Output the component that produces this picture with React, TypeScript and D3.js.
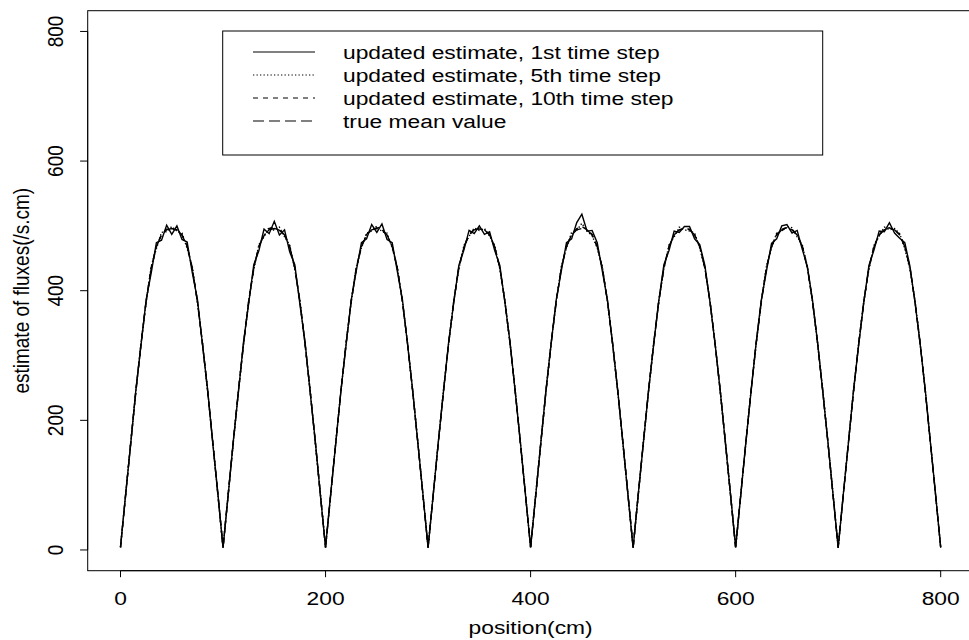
import React from 'react';
import * as d3 from 'd3';

// positions (cm) sampled every 5 cm
const positions: number[] = d3.range(0, 801, 5);

const xTicks = [0, 200, 400, 600, 800];
const yTicks = [0, 200, 400, 600, 800];

const xLabel = 'position(cm)';
const yLabel = 'estimate of fluxes(/s.cm)';

const legendLabels = [
  'updated estimate, 1st time step',
  'updated estimate, 5th time step',
  'updated estimate, 10th time step',
  'true mean value',
];

const estimate1st = [
  5, 86, 164, 247, 316, 386, 428, 474, 478, 501, 487, 500, 479, 475, 428, 387, 316, 247, 164, 87,
  3, 84, 168, 243, 321, 380, 440, 462, 495, 488, 507, 486, 494, 460, 440, 379, 321, 243, 168, 84,
  4, 87, 165, 246, 316, 385, 431, 474, 480, 502, 490, 503, 479, 474, 430, 386, 317, 246, 165, 86,
  3, 85, 167, 244, 320, 381, 439, 463, 493, 488, 500, 487, 491, 462, 439, 381, 320, 244, 167, 85,
  4, 84, 166, 247, 318, 386, 431, 474, 480, 505, 518, 492, 493, 474, 430, 385, 318, 246, 166, 84,
  3, 86, 165, 245, 316, 384, 440, 462, 492, 490, 499, 499, 480, 471, 439, 382, 317, 245, 165, 86,
  4, 85, 167, 244, 320, 385, 430, 473, 480, 500, 502, 489, 493, 464, 437, 385, 319, 244, 167, 85,
  3, 86, 165, 247, 316, 382, 439, 463, 492, 491, 505, 489, 481, 474, 438, 381, 317, 246, 165, 86,
  4,
];

const estimate5th = [
  4, 85, 167, 244, 319, 382, 438, 465, 490, 491, 499, 492, 489, 465, 437, 382, 319, 245, 167, 85,
  4, 86, 165, 246, 317, 384, 433, 471, 483, 498, 493, 498, 483, 471, 433, 385, 317, 246, 165, 86,
  4, 84, 167, 245, 319, 382, 437, 466, 489, 492, 500, 491, 489, 466, 437, 382, 319, 244, 167, 84,
  4, 86, 166, 246, 317, 384, 433, 470, 484, 497, 493, 496, 484, 470, 433, 384, 317, 246, 166, 86,
  4, 85, 165, 245, 319, 383, 438, 466, 490, 493, 504, 492, 485, 466, 437, 383, 319, 245, 165, 85,
  4, 85, 167, 244, 317, 384, 433, 471, 483, 498, 494, 492, 489, 466, 434, 384, 318, 244, 167, 85,
  4, 86, 166, 246, 318, 382, 437, 466, 489, 492, 499, 497, 483, 471, 437, 382, 318, 246, 166, 86,
  4, 85, 166, 245, 319, 384, 433, 470, 484, 498, 494, 496, 488, 465, 433, 384, 319, 245, 166, 85,
  4,
];

const estimate10th = [
  4, 85, 166, 246, 318, 384, 436, 468, 487, 495, 495, 494, 486, 469, 434, 384, 318, 245, 166, 85,
  4, 85, 167, 245, 318, 383, 435, 469, 485, 496, 497, 493, 487, 468, 436, 383, 318, 245, 167, 85,
  4, 85, 166, 245, 318, 384, 435, 468, 487, 494, 497, 495, 485, 469, 435, 384, 318, 245, 166, 85,
  4, 85, 166, 245, 318, 383, 436, 467, 486, 495, 495, 494, 487, 467, 435, 383, 318, 245, 166, 85,
  4, 85, 166, 245, 318, 384, 435, 469, 486, 496, 499, 494, 487, 468, 435, 384, 318, 245, 166, 85,
  4, 85, 166, 245, 318, 383, 436, 468, 486, 494, 496, 495, 486, 468, 435, 383, 318, 245, 166, 85,
  4, 85, 166, 245, 318, 384, 435, 468, 487, 495, 497, 494, 486, 469, 435, 384, 318, 245, 166, 85,
  4, 85, 166, 245, 318, 383, 435, 469, 486, 495, 497, 494, 487, 468, 436, 383, 318, 245, 166, 85,
  4,
];

const trueMean = [
  4, 85, 166, 245, 318, 383, 435, 468, 486, 494, 496, 494, 486, 468, 435, 383, 318, 245, 166, 85,
  4, 85, 166, 245, 318, 383, 435, 468, 486, 494, 496, 494, 486, 468, 435, 383, 318, 245, 166, 85,
  4, 85, 166, 245, 318, 383, 435, 468, 486, 494, 496, 494, 486, 468, 435, 383, 318, 245, 166, 85,
  4, 85, 166, 245, 318, 383, 435, 468, 486, 494, 496, 494, 486, 468, 435, 383, 318, 245, 166, 85,
  4, 85, 166, 245, 318, 383, 435, 468, 486, 494, 496, 494, 486, 468, 435, 383, 318, 245, 166, 85,
  4, 85, 166, 245, 318, 383, 435, 468, 486, 494, 496, 494, 486, 468, 435, 383, 318, 245, 166, 85,
  4, 85, 166, 245, 318, 383, 435, 468, 486, 494, 496, 494, 486, 468, 435, 383, 318, 245, 166, 85,
  4, 85, 166, 245, 318, 383, 435, 468, 486, 494, 496, 494, 486, 468, 435, 383, 318, 245, 166, 85,
  4,
];

const seriesData = [estimate1st, estimate5th, estimate10th, trueMean];
const dashes = ['none', '1.3,2.2', '5,5', '11,5'];

const FONT = '"Liberation Sans", Arial, Helvetica, sans-serif';
const FS = 19;
const SX = 1.2;

export default function App() {
  const W = 969;
  const H = 640;
  const left = 87.7;
  const right = 973.5;
  const top = 10.7;
  const bottom = 570.7;

  const x = d3.scaleLinear().domain([-32, 832]).range([left, right]);
  const y = d3.scaleLinear().domain([-32, 832]).range([bottom, top]);

  const line = d3
    .line<number>()
    .x((_, i) => x(positions[i]))
    .y((d) => y(d));

  const legendX = 222.7;
  const legendY = 31;
  const legendW = 600;
  const legendH = 124;
  const rowY = [52, 75, 98, 121];

  return (
    <svg
      width={W}
      height={H}
      style={{ position: 'absolute', left: 0, top: 0, background: '#fff' }}
      fontFamily={FONT}
    >
      <rect x={0} y={0} width={W} height={H} fill="#fff" />
      {/* data lines */}
      <g fill="none" stroke="#000">
        {seriesData.map((s, k) => (
          <path
            key={k}
            d={line(s) || ''}
            strokeWidth={1.4}
            strokeDasharray={dashes[k]}
          />
        ))}
      </g>

      {/* box */}
      <rect
        x={left}
        y={top}
        width={right - left}
        height={bottom - top}
        fill="none"
        stroke="#000"
        strokeWidth={1}
      />

      {/* x axis */}
      <g stroke="#000" strokeWidth={1}>
        <line x1={x(xTicks[0])} x2={x(xTicks[xTicks.length - 1])} y1={bottom} y2={bottom} />
        {xTicks.map((t) => (
          <line key={t} x1={x(t)} x2={x(t)} y1={bottom} y2={bottom + 6.5} />
        ))}
      </g>
      {xTicks.map((t) => (
        <text
          key={t}
          transform={`translate(${x(t)},605) scale(${SX},1)`}
          textAnchor="middle"
          fontSize={FS}
          fill="#000"
        >
          {t}
        </text>
      ))}
      <text
        transform={`translate(${(left + right) / 2},634) scale(${SX},1)`}
        textAnchor="middle"
        fontSize={FS}
        fill="#000"
      >
        {xLabel}
      </text>

      {/* y axis */}
      <g stroke="#000" strokeWidth={1}>
        <line x1={left} x2={left} y1={y(yTicks[0])} y2={y(yTicks[yTicks.length - 1])} />
        {yTicks.map((t) => (
          <line key={t} x1={left} x2={left - 7.6} y1={y(t)} y2={y(t)} />
        ))}
      </g>
      {yTicks.map((t) => (
        <text
          key={t}
          transform={`translate(63,${y(t)}) scale(${SX},1) rotate(-90)`}
          textAnchor="middle"
          fontSize={FS}
          fill="#000"
        >
          {t}
        </text>
      ))}
      <text
        transform={`translate(29,${(top + bottom) / 2}) scale(${SX},1) rotate(-90)`}
        textAnchor="middle"
        fontSize={FS}
        fill="#000"
      >
        {yLabel}
      </text>

      {/* legend */}
      <rect
        x={legendX}
        y={legendY}
        width={legendW}
        height={legendH}
        fill="#fff"
        stroke="#000"
        strokeWidth={1}
      />
      {legendLabels.map((lab, k) => (
        <g key={k}>
          <line
            x1={253}
            x2={315}
            y1={rowY[k]}
            y2={rowY[k]}
            stroke="#000"
            strokeWidth={1}
            strokeDasharray={dashes[k]}
          />
          <text
            transform={`translate(343,${rowY[k] + 6.5}) scale(${SX},1)`}
            fontSize={FS}
            fill="#000"
          >
            {lab}
          </text>
        </g>
      ))}
    </svg>
  );
}
